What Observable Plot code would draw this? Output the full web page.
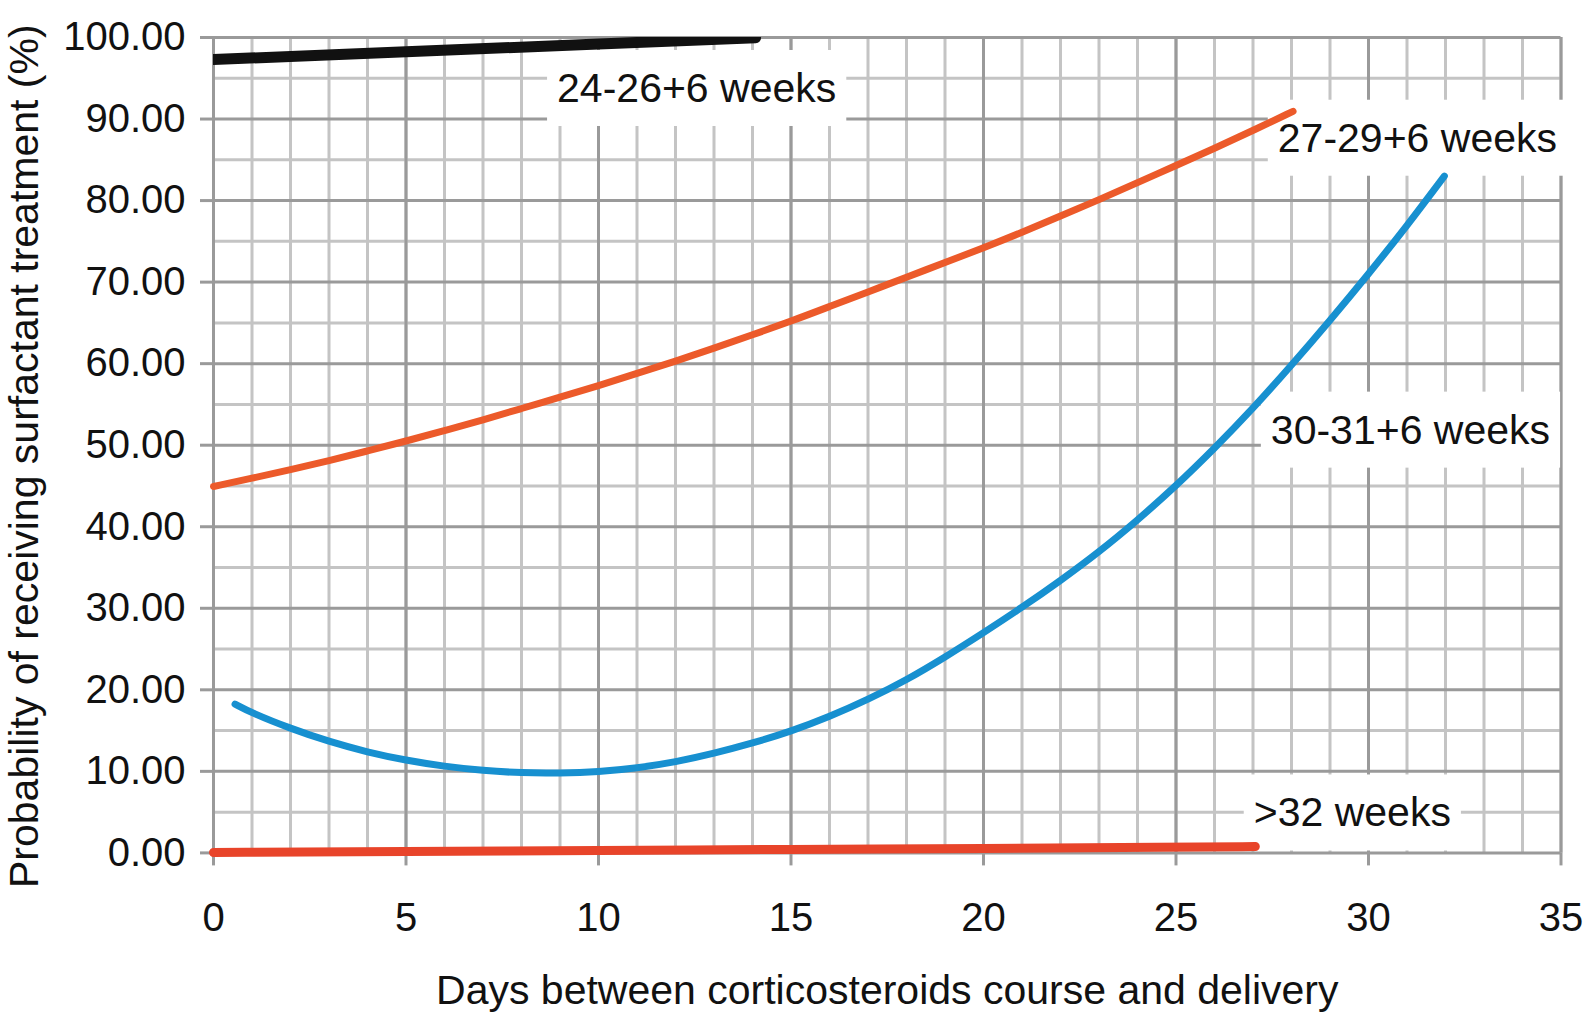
<!DOCTYPE html>
<html>
<head>
<meta charset="utf-8">
<script src="https://cdn.jsdelivr.net/npm/d3@7"></script>
<script src="https://cdn.jsdelivr.net/npm/@observablehq/plot@0.6"></script>
<style>
  html, body { margin: 0; padding: 0; background: #fff; }
</style>
</head>
<body>
<script>
// ---- Data ----
const days24 = [0, 5, 10, 14.08];
const prob24 = [97.3, 98.25, 99.2, 99.97];

const days27 = [0,1,2,3,4,5,6,7,8,9,10,11,12,13,14,15,16,17,18,19,20,21,22,23,24,25,26,27,28.04];
const prob27 = [44.93,45.95,47.0,48.1,49.3,50.5,51.8,53.1,54.5,55.9,57.3,58.8,60.3,61.9,63.55,65.2,67.0,68.8,70.6,72.4,74.2,76.1,78.1,80.1,82.2,84.3,86.4,88.6,90.95];

const days30 = [0.56,1,2,3,4,5,6,7,8,9,10,11,12,13,14,15,16,17,18,19,20,21,22,23,24,25,26,27,28,29,30,31,31.97];
const prob30 = [18.25,17.15,15.25,13.65,12.35,11.35,10.6,10.1,9.8,9.78,9.95,10.4,11.15,12.2,13.45,14.9,16.7,18.8,21.2,24.0,27.0,30.1,33.4,36.9,40.8,45.0,49.6,54.5,59.8,65.3,71.0,76.9,83.0];

const days32 = [0, 5, 10, 15, 20, 25, 27.06];
const prob32 = [0.05, 0.18, 0.3, 0.42, 0.55, 0.7, 0.78];

const seriesNames = ["24-26+6 weeks", "27-29+6 weeks", "30-31+6 weeks", ">32 weeks"];
const labelX = [12.55, 31.27, 31.09, 29.58];
const labelY = [93.7, 87.6, 51.8, 4.85];

const xTicks = [0, 5, 10, 15, 20, 25, 30, 35];
const yTicks = [0, 10, 20, 30, 40, 50, 60, 70, 80, 90, 100];
const xMinor = d3.range(0, 36, 1);
const yMinor = d3.range(5, 100, 10);

const xTitle = "Days between corticosteroids course and delivery";
const yTitle = "Probability of receiving surfactant treatment (%)";

// ---- Build tables ----
const toRows = (days, probs, name) => days.map((d, i) => ({day: d, prob: probs[i], series: name}));
const rows24 = toRows(days24, prob24, seriesNames[0]);
const rows27 = toRows(days27, prob27, seriesNames[1]);
const rows30 = toRows(days30, prob30, seriesNames[2]);
const rows32 = toRows(days32, prob32, seriesNames[3]);
const labels = seriesNames.map((s, i) => ({label: s, x: labelX[i], y: labelY[i]}));

const minorColor = "#c4c4c4";
const majorColor = "#9a9a9a";

const chart = Plot.plot({
  width: 1587,
  height: 1014,
  marginLeft: 213,
  marginRight: 26.5,
  marginTop: 37,
  marginBottom: 161.6,
  style: {fontFamily: "'Liberation Sans', Arial, Helvetica, sans-serif", background: "#fff", color: "#111", overflow: "visible"},
  x: {domain: [0, 35]},
  y: {domain: [0, 100]},
  marks: [
    Plot.ruleX(xMinor, {stroke: minorColor, strokeWidth: 3}),
    Plot.ruleY(yMinor, {stroke: minorColor, strokeWidth: 3}),
    Plot.ruleX(xTicks, {stroke: majorColor, strokeWidth: 3}),
    Plot.ruleY(yTicks, {stroke: majorColor, strokeWidth: 3}),
    Plot.axisX({ticks: xTicks, tickSize: 13, tickPadding: 37, fontSize: 40, stroke: majorColor, strokeWidth: 3, label: null, tickFormat: d3.format("d")}),
    Plot.axisY({ticks: yTicks, tickSize: 13, tickPadding: 15, fontSize: 40, stroke: majorColor, strokeWidth: 3, label: null, tickFormat: d3.format(".2f")}),
    Plot.text(labels, {x: "x", y: "y", text: "label", fontSize: 41, fill: "#111"}),
    Plot.line(rows24, {x: "day", y: "prob", stroke: "#111", strokeWidth: 11, strokeLinecap: "round", clip: true}),
    Plot.line(rows27, {x: "day", y: "prob", stroke: "#ec5a2a", strokeWidth: 7, strokeLinecap: "round", curve: "basis"}),
    Plot.line(rows30, {x: "day", y: "prob", stroke: "#1790d0", strokeWidth: 7, strokeLinecap: "round", curve: "basis"}),
    Plot.line(rows32, {x: "day", y: "prob", stroke: "#e8442a", strokeWidth: 9, strokeLinecap: "round", curve: "basis"}),
    Plot.text([yTitle], {frameAnchor: "left", textAnchor: "middle", lineAnchor: "middle", rotate: -90, dx: -189, dy: 11, fontSize: 41, fill: "#111"}),
    Plot.text([xTitle], {frameAnchor: "bottom", textAnchor: "middle", lineAnchor: "middle", dy: 138, fontSize: 41, fill: "#111"})
  ]
});

document.body.appendChild(chart);

// white boxes behind the curve labels
const svgNS = "http://www.w3.org/2000/svg";
const padX = 10, padY = 15;
d3.select(chart).selectAll("text")
  .filter(function() { return seriesNames.includes(this.textContent); })
  .each(function() {
    const b = this.getBBox();
    const r = document.createElementNS(svgNS, "rect");
    r.setAttribute("x", b.x - padX);
    r.setAttribute("y", b.y - padY);
    r.setAttribute("width", b.width + 2 * padX);
    r.setAttribute("height", b.height + 2 * padY);
    r.setAttribute("fill", "#fff");
    const t = this.getAttribute("transform");
    if (t) r.setAttribute("transform", t);
    this.parentNode.insertBefore(r, this);
  });
</script>
</body>
</html>
